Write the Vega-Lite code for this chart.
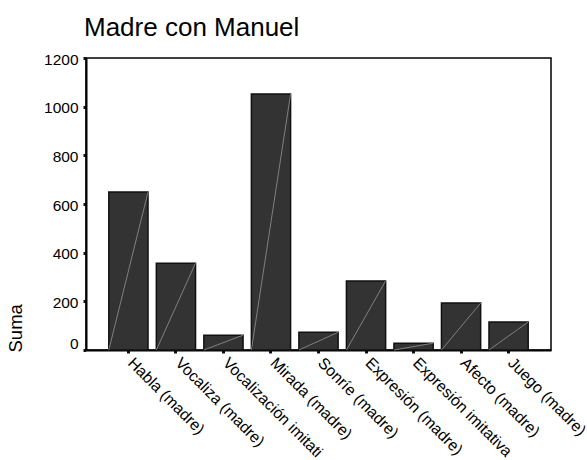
{
  "$schema": "https://vega.github.io/schema/vega-lite/v6.json",
  "width": 465,
  "height": 292,
  "autosize": {"type": "none"},
  "padding": {"left": 86, "top": 58, "right": 36, "bottom": 110},
  "background": "white",
  "title": {
    "text": "Madre con Manuel",
    "anchor": "start",
    "frame": "group",
    "font": "Liberation Sans",
    "fontSize": 26,
    "fontWeight": "normal",
    "color": "black",
    "baseline": "alphabetic",
    "offset": 14,
    "dy": 24,
    "dx": -2
  },
  "config": {
    "view": {"stroke": "black", "strokeWidth": 1.5},
    "axis": {
      "labelFont": "Liberation Sans",
      "labelFontSize": 15.5,
      "labelColor": "black",
      "titleFont": "Liberation Sans",
      "titleColor": "black",
      "domainColor": "black",
      "domainWidth": 2,
      "tickColor": "#111",
      "tickSize": 3,
      "tickWidth": 3,
      "grid": false
    }
  },
  "data": {
    "values": [
      {"cat": "Habla (madre)", "value": 649},
      {"cat": "Vocaliza (madre)", "value": 357},
      {"cat": "Vocalización imitati", "value": 61},
      {"cat": "Mirada (madre)", "value": 1052},
      {"cat": "Sonríe (madre)", "value": 73},
      {"cat": "Expresión (madre)", "value": 284},
      {"cat": "Expresión imitativa", "value": 28},
      {"cat": "Afecto (madre)", "value": 193},
      {"cat": "Juego (madre)", "value": 115}
    ]
  },
  "layer": [
    {
      "mark": {"type": "bar", "fill": "#333333", "stroke": "#111", "strokeWidth": 1.5},
      "encoding": {
        "x": {
          "field": "cat",
          "type": "nominal",
          "sort": null,
          "scale": {"paddingInner": 0.175, "paddingOuter": 0.48},
          "axis": {
            "title": null,
            "labelAngle": 45,
            "labelAlign": "left",
            "labelBaseline": "top",
            "labelPadding": 2,
            "labelOffset": 7,
            "labelFontSize": 15.8,
            "labelLimit": 300
          }
        },
        "y": {
          "field": "value",
          "type": "quantitative",
          "scale": {"domain": [0, 1200], "nice": false},
          "axis": {
            "title": "Suma",
            "values": [0, 200, 400, 600, 800, 1000, 1200],
            "format": "d",
            "titleFontSize": 18.5,
            "titleFontWeight": "normal",
            "titleAngle": -90,
            "titleAlign": "left",
            "titleBaseline": "alphabetic",
            "titleX": -65,
            "titleY": 294,
            "labelPadding": 5,
            "labelOffset": {"condition": {"test": "datum.value === 0", "value": -7}, "value": 1}
          }
        }
      }
    },
    {
      "mark": {"type": "rule", "stroke": "#a0a0a0", "strokeWidth": 0.7},
      "encoding": {
        "x": {"field": "cat", "type": "nominal", "sort": null, "bandPosition": 1},
        "x2": {"field": "cat", "bandPosition": 0},
        "y": {"field": "value", "type": "quantitative", "stack": null},
        "y2": {"datum": 0}
      }
    }
  ]
}
